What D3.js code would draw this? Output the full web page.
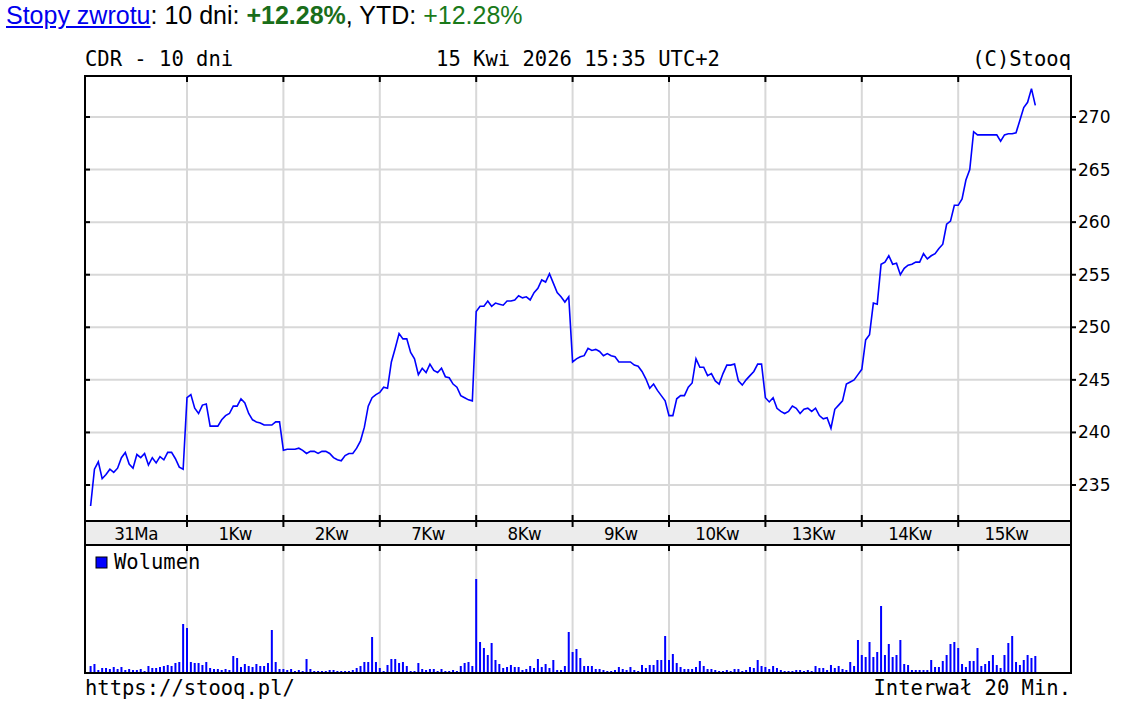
<!DOCTYPE html>
<html>
<head>
<meta charset="utf-8">
<script src="https://cdn.jsdelivr.net/npm/d3@7"></script>
<style>
  body { margin: 0; background: #fff; }
  #head { position: absolute; left: 6px; top: 1px; font: 25px "Liberation Sans", Arial, sans-serif; color: #000; }
  #head a { color: #0000ee; }
  svg { position: absolute; left: 0; top: 0; }
</style>
</head>
<body>
<div id="head"><a href="#">Stopy zwrotu</a>: 10 dni: <b style="color:#1a6e1a">+12.28%</b>, YTD: <span style="color:#1a7a1a">+12.28%</span></div>
<div id="chart"></div>
<script>

const dayLabels = ["31Ma", "1Kw", "2Kw", "7Kw", "8Kw", "9Kw", "10Kw", "13Kw", "14Kw", "15Kw"];
const priceTicks = [235, 240, 245, 250, 255, 260, 265, 270];

// 20-minute closes, one array per session
const prices = [
    [233, 236.5, 237.2, 235.6, 236, 236.5, 236.2, 236.6, 237.6, 238.1, 237, 236.6, 237.9, 237.6, 238, 236.9, 237.6, 237.1, 237.7, 237.4, 238.1, 238.1, 237.5, 236.7, 236.5],
    [243.3, 243.6, 242.3, 241.8, 242.6, 242.7, 240.6, 240.6, 240.6, 241.2, 241.6, 241.8, 242.5, 242.5, 243.2, 242.8, 241.8, 241.2, 241, 240.9, 240.7, 240.7, 240.7, 241, 241],
    [238.3, 238.4, 238.4, 238.4, 238.5, 238.3, 238, 238.2, 238.2, 238, 238.2, 238.2, 238, 237.6, 237.4, 237.3, 237.8, 238, 238, 238.5, 239.2, 240.5, 242.5, 243.3, 243.6],
    [243.8, 244.3, 244.2, 246.7, 248, 249.4, 248.9, 248.9, 247.6, 247, 245.5, 246.1, 245.7, 246.5, 245.9, 245.7, 246.1, 245.3, 245.2, 244.6, 244.3, 243.5, 243.3, 243.1, 243.0],
    [251.5, 252, 252, 252.5, 252, 252.3, 252.2, 252.1, 252.5, 252.5, 252.6, 253, 252.8, 252.9, 252.6, 253.3, 253.7, 254.5, 254.3, 255.1, 254.2, 253.3, 252.9, 252.4, 252.9],
    [246.7, 247, 247.2, 247.3, 248, 247.8, 247.9, 247.7, 247.3, 247.5, 247.3, 247.2, 246.7, 246.7, 246.7, 246.7, 246.4, 246.3, 245.8, 245.1, 244.2, 244.6, 244.0, 243.5, 243],
    [241.6, 241.6, 243.2, 243.5, 243.5, 244.3, 244.7, 247, 246.2, 246.2, 245.4, 245.6, 244.9, 244.6, 245.6, 246.4, 246.4, 246.5, 244.9, 244.5, 245, 245.4, 245.8, 246.5, 246.5],
    [243.3, 242.9, 243.3, 242.3, 242, 241.8, 242, 242.5, 242.3, 241.8, 242.2, 242.3, 242, 242.3, 241.6, 241.3, 241.4, 240.4, 242.2, 242.6, 243, 244.6, 244.8, 245, 245.5],
    [246, 248.8, 249.3, 252.3, 252.2, 256, 256.2, 256.8, 256, 256.1, 255, 255.6, 255.9, 256, 256.2, 256.2, 257, 256.5, 256.8, 257, 257.5, 257.9, 259.8, 260.1, 261.6],
    [261.6, 262.2, 264, 265, 268.6, 268.3, 268.3, 268.3, 268.3, 268.3, 268.3, 267.7, 268.3, 268.4, 268.4, 268.5, 269.7, 270.9, 271.4, 272.7, 271.1]
];

const volumes = [
    [6, 8, 2, 4, 4, 3, 5, 3, 5, 2, 3, 2, 2, 3, 1, 6, 4, 4, 5, 6, 7, 6, 9, 10, 48],
    [44, 10, 9, 9, 7, 10, 4, 3, 3, 2, 3, 2, 16, 14, 5, 8, 6, 5, 8, 6, 6, 9, 42, 10, 3],
    [3, 2, 3, 1, 2, 1, 13, 3, 1, 1, 1, 1, 2, 2, 1, 1, 1, 1, 2, 4, 6, 10, 10, 35, 10],
    [4, 1, 7, 13, 13, 9, 10, 6, 1, 1, 9, 3, 2, 3, 3, 1, 3, 1, 1, 2, 1, 6, 9, 10, 6],
    [93, 30, 24, 17, 29, 12, 8, 4, 5, 7, 5, 5, 2, 3, 6, 4, 13, 5, 8, 4, 12, 2, 2, 6, 40],
    [20, 23, 14, 6, 6, 6, 3, 3, 2, 1, 1, 2, 5, 3, 2, 5, 2, 1, 7, 4, 7, 7, 12, 12, 36],
    [12, 18, 9, 5, 3, 3, 3, 5, 11, 6, 3, 3, 2, 1, 1, 2, 1, 3, 3, 1, 2, 5, 4, 12, 6],
    [5, 3, 6, 4, 2, 1, 1, 1, 2, 2, 1, 2, 1, 6, 4, 4, 2, 7, 4, 6, 3, 2, 10, 6, 32],
    [17, 15, 30, 15, 20, 66, 17, 28, 15, 17, 32, 8, 7, 2, 2, 2, 2, 2, 12, 5, 5, 11, 17, 28, 30],
    [24, 8, 5, 11, 11, 24, 6, 8, 11, 17, 7, 4, 17, 29, 36, 10, 7, 12, 17, 14, 16]
];

const perDay = 25;
const pricePts = [], volPts = [];
prices.forEach((day, d) => day.forEach((v, j) => pricePts.push({ i: d * perDay + j, v: v })));
volumes.forEach((day, d) => day.forEach((v, j) => volPts.push({ i: d * perDay + j, v: v })));

const L = 85, R = 1071, T = 76, B1 = 521, B2 = 545, B3 = 673;

const svg = d3.select("#chart").append("svg").attr("width", 1146).attr("height", 703);

const x = d3.scaleLinear().domain([0, 250]).range([90.6, 90.6 + 250 * 3.856]);
const y = d3.scaleLinear().domain([235, 270]).range([485, 117]);
const yv = d3.scaleLinear().domain([0, 93]).range([B3 - 1, 579]);

const bounds = d3.range(1, 10).map(d => d * perDay);

// x band
svg.append("rect").attr("x", L).attr("y", B1).attr("width", R - L).attr("height", B2 - B1).attr("fill", "#ececec");

// grid
svg.selectAll("line.hg").data(priceTicks).enter().append("line")
    .attr("x1", L).attr("x2", R).attr("y1", d => y(d)).attr("y2", d => y(d))
    .attr("stroke", "#d8d8d8").attr("stroke-width", 2);
[[T, B1], [B2, B3]].forEach(function (r) {
    svg.selectAll(null).data(bounds).enter().append("line")
        .attr("x1", d => x(d)).attr("x2", d => x(d)).attr("y1", r[0]).attr("y2", r[1])
        .attr("stroke", "#d8d8d8").attr("stroke-width", 2);
});

// ticks on day boundaries
[T, B1, B2].forEach(function (yy) {
    svg.selectAll(null).data(bounds).enter().append("line")
        .attr("x1", d => x(d)).attr("x2", d => x(d)).attr("y1", yy).attr("y2", yy + 6)
        .attr("stroke", "#000").attr("stroke-width", 2);
});
svg.selectAll(null).data(bounds).enter().append("line")
    .attr("x1", d => x(d)).attr("x2", d => x(d)).attr("y1", B1 - 6).attr("y2", B1)
    .attr("stroke", "#000").attr("stroke-width", 2);

// price y ticks
svg.selectAll("line.yt").data(priceTicks).enter().append("line")
    .attr("x1", L).attr("x2", L + 5).attr("y1", d => y(d)).attr("y2", d => y(d))
    .attr("stroke", "#000").attr("stroke-width", 2);
svg.selectAll("line.yt2").data(priceTicks).enter().append("line")
    .attr("x1", R).attr("x2", R + 5).attr("y1", d => y(d)).attr("y2", d => y(d))
    .attr("stroke", "#000").attr("stroke-width", 2);
svg.selectAll("text.yl").data(priceTicks).enter().append("text")
    .attr("x", 1078).attr("y", d => y(d) + 6).text(d => d)
    .style("font", "17px 'DejaVu Sans', sans-serif");

// volume bars
svg.selectAll("rect.vol").data(volPts).enter().append("rect")
    .attr("x", d => x(d.i) - 1).attr("width", 2)
    .attr("y", d => yv(d.v)).attr("height", d => yv(0) - yv(d.v))
    .attr("fill", "#0000ff");

// price line
svg.append("path").datum(pricePts)
    .attr("d", d3.line().x(d => x(d.i)).y(d => y(d.v)))
    .attr("fill", "none").attr("stroke", "#0000ff").attr("stroke-width", 1.6);

// day labels
svg.selectAll("text.xl").data(dayLabels).enter().append("text")
    .attr("x", (d, i) => i === 0 ? 136 : x(i * perDay + 12.5))
    .attr("y", B1 + 19).attr("text-anchor", "middle").text(d => d)
    .style("font", "18.5px 'DejaVu Sans Condensed', 'DejaVu Sans', sans-serif")
    .style("letter-spacing", "-0.5px");

// frame
svg.append("rect").attr("x", L).attr("y", T).attr("width", R - L).attr("height", B3 - T)
    .attr("fill", "none").attr("stroke", "#000").attr("stroke-width", 2);
[B1, B2].forEach(yy => svg.append("line").attr("x1", L).attr("x2", R).attr("y1", yy).attr("y2", yy)
    .attr("stroke", "#000").attr("stroke-width", 2));

// legend
svg.append("rect").attr("x", 96).attr("y", 557).attr("width", 11).attr("height", 11)
    .attr("fill", "#0000ff").attr("stroke", "#000").attr("stroke-width", 1);
const mono = "20.5px 'DejaVu Sans Mono', monospace";
svg.append("text").attr("x", 114).attr("y", 569).text("Wolumen").style("font", mono);

// header / footer
svg.append("text").attr("x", 85).attr("y", 66).text("CDR - 10 dni").style("font", mono);
svg.append("text").attr("x", 578).attr("y", 66).attr("text-anchor", "middle").text("15 Kwi 2026 15:35 UTC+2").style("font", mono);
svg.append("text").attr("x", 1071).attr("y", 66).attr("text-anchor", "end").text("(C)Stooq").style("font", mono);
svg.append("text").attr("x", 85).attr("y", 695).text("https://stooq.pl/").style("font", mono);
svg.append("text").attr("x", 1071).attr("y", 695).attr("text-anchor", "end").text("Interwał 20 Min.").style("font", mono);

</script>
</body>
</html>
